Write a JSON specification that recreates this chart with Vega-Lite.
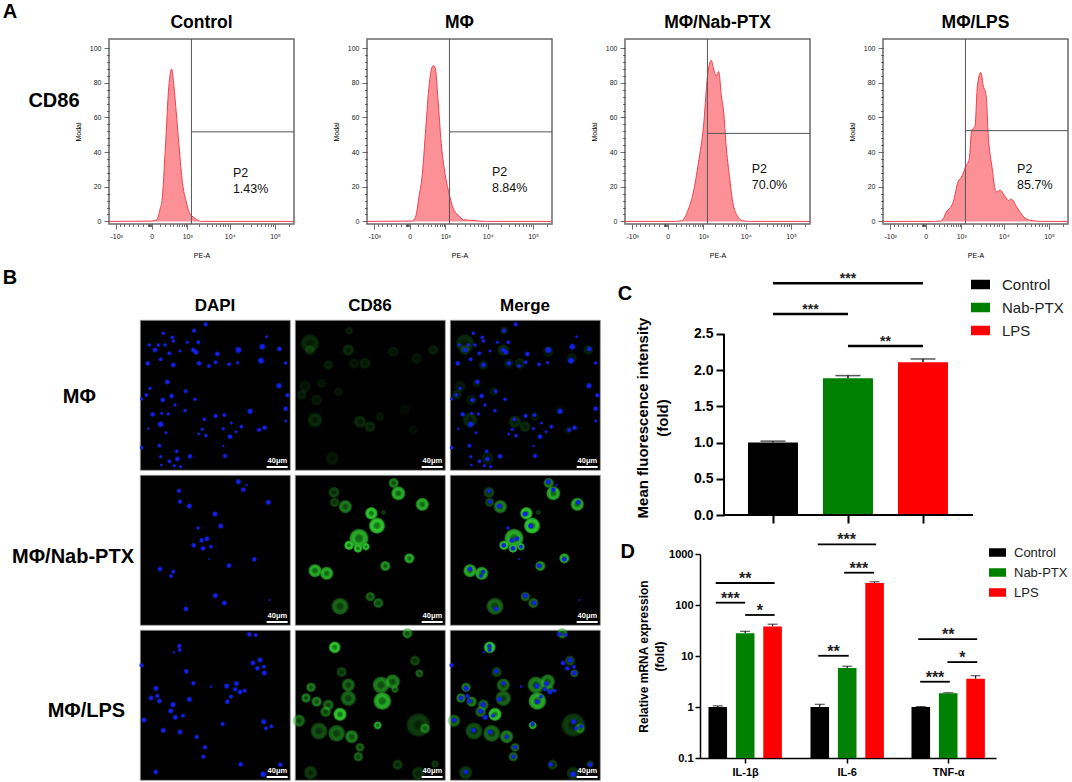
{
  "$schema": "https://vega.github.io/schema/vega-lite/v6.json",
  "padding": {"left": 2, "top": 2, "right": 0, "bottom": 0},
  "background": "white",
  "config": {
    "font": "Liberation Sans",
    "view": {"stroke": null},
    "axis": {"grid": false}
  },
  "spacing": 8,
  "vconcat": [
    {
      "title": {"text": "A", "anchor": "start", "frame": "bounds", "fontSize": 20, "fontWeight": "bold", "color": "#000", "offset": -9, "dx": -25},
      "data": {"values": [
        {"panel":"Control","kind":"heading","text":"CD86","channel":-2.7,"modal":69.4},
        {"panel":"Control","kind":"note","text":"P2","channel":1.777,"modal":28},
        {"panel":"Control","kind":"note","text":"1.43%","channel":1.777,"modal":18.6},
        {"panel":"MΦ","kind":"note","text":"P2","channel":1.8,"modal":28.8},
        {"panel":"MΦ","kind":"note","text":"8.84%","channel":1.8,"modal":19.4},
        {"panel":"MΦ/Nab-PTX","kind":"note","text":"P2","channel":1.84,"modal":30},
        {"panel":"MΦ/Nab-PTX","kind":"note","text":"70.0%","channel":1.84,"modal":21},
        {"panel":"MΦ/LPS","kind":"note","text":"P2","channel":2.0,"modal":30},
        {"panel":"MΦ/LPS","kind":"note","text":"85.7%","channel":2.0,"modal":21},
        {"panel":"Control","kind":"gate","modal":51.7},
        {"panel":"MΦ","kind":"gate","modal":51.7},
        {"panel":"MΦ/Nab-PTX","kind":"gate","modal":50.8},
        {"panel":"MΦ/LPS","kind":"gate","modal":52.4},
        {"panel":"Control","kind":"curve","channel":-0.93,"modal":0},
        {"panel":"Control","kind":"curve","channel":0,"modal":0.2},
        {"panel":"Control","kind":"curve","channel":0.112,"modal":1},
        {"panel":"Control","kind":"curve","channel":0.187,"modal":7.5},
        {"panel":"Control","kind":"curve","channel":0.225,"modal":12},
        {"panel":"Control","kind":"curve","channel":0.3,"modal":43},
        {"panel":"Control","kind":"curve","channel":0.375,"modal":78},
        {"panel":"Control","kind":"curve","channel":0.435,"modal":88},
        {"panel":"Control","kind":"curve","channel":0.487,"modal":78},
        {"panel":"Control","kind":"curve","channel":0.54,"modal":62},
        {"panel":"Control","kind":"curve","channel":0.6,"modal":43},
        {"panel":"Control","kind":"curve","channel":0.675,"modal":22},
        {"panel":"Control","kind":"curve","channel":0.75,"modal":12},
        {"panel":"Control","kind":"curve","channel":0.825,"modal":5},
        {"panel":"Control","kind":"curve","channel":0.937,"modal":2},
        {"panel":"Control","kind":"curve","channel":1.087,"modal":0},
        {"panel":"Control","kind":"curve","channel":3.11,"modal":0},
        {"panel":"MΦ","kind":"curve","channel":-0.93,"modal":0},
        {"panel":"MΦ","kind":"curve","channel":0.052,"modal":0.2},
        {"panel":"MΦ","kind":"curve","channel":0.127,"modal":2.5},
        {"panel":"MΦ","kind":"curve","channel":0.202,"modal":14},
        {"panel":"MΦ","kind":"curve","channel":0.277,"modal":27.5},
        {"panel":"MΦ","kind":"curve","channel":0.352,"modal":54},
        {"panel":"MΦ","kind":"curve","channel":0.427,"modal":79},
        {"panel":"MΦ","kind":"curve","channel":0.487,"modal":89},
        {"panel":"MΦ","kind":"curve","channel":0.517,"modal":90},
        {"panel":"MΦ","kind":"curve","channel":0.562,"modal":88},
        {"panel":"MΦ","kind":"curve","channel":0.615,"modal":72},
        {"panel":"MΦ","kind":"curve","channel":0.69,"modal":45},
        {"panel":"MΦ","kind":"curve","channel":0.765,"modal":29},
        {"panel":"MΦ","kind":"curve","channel":0.862,"modal":16},
        {"panel":"MΦ","kind":"curve","channel":0.952,"modal":7.5},
        {"panel":"MΦ","kind":"curve","channel":1.064,"modal":3.5},
        {"panel":"MΦ","kind":"curve","channel":1.177,"modal":1},
        {"panel":"MΦ","kind":"curve","channel":1.364,"modal":0.6},
        {"panel":"MΦ","kind":"curve","channel":1.514,"modal":0.2},
        {"panel":"MΦ","kind":"curve","channel":1.7,"modal":0},
        {"panel":"MΦ","kind":"curve","channel":3.11,"modal":0},
        {"panel":"MΦ/Nab-PTX","kind":"curve","channel":-0.93,"modal":0},
        {"panel":"MΦ/Nab-PTX","kind":"curve","channel":0.157,"modal":0},
        {"panel":"MΦ/Nab-PTX","kind":"curve","channel":0.305,"modal":0.4},
        {"panel":"MΦ/Nab-PTX","kind":"curve","channel":0.452,"modal":7},
        {"panel":"MΦ/Nab-PTX","kind":"curve","channel":0.563,"modal":17},
        {"panel":"MΦ/Nab-PTX","kind":"curve","channel":0.673,"modal":34},
        {"panel":"MΦ/Nab-PTX","kind":"curve","channel":0.784,"modal":55},
        {"panel":"MΦ/Nab-PTX","kind":"curve","channel":0.872,"modal":84},
        {"panel":"MΦ/Nab-PTX","kind":"curve","channel":0.954,"modal":93},
        {"panel":"MΦ/Nab-PTX","kind":"curve","channel":1.005,"modal":88},
        {"panel":"MΦ/Nab-PTX","kind":"curve","channel":1.057,"modal":84},
        {"panel":"MΦ/Nab-PTX","kind":"curve","channel":1.116,"modal":86.5},
        {"panel":"MΦ/Nab-PTX","kind":"curve","channel":1.175,"modal":72.5},
        {"panel":"MΦ/Nab-PTX","kind":"curve","channel":1.226,"modal":63},
        {"panel":"MΦ/Nab-PTX","kind":"curve","channel":1.278,"modal":44},
        {"panel":"MΦ/Nab-PTX","kind":"curve","channel":1.352,"modal":26},
        {"panel":"MΦ/Nab-PTX","kind":"curve","channel":1.425,"modal":11},
        {"panel":"MΦ/Nab-PTX","kind":"curve","channel":1.521,"modal":3.3},
        {"panel":"MΦ/Nab-PTX","kind":"curve","channel":1.632,"modal":0.4},
        {"panel":"MΦ/Nab-PTX","kind":"curve","channel":1.816,"modal":0},
        {"panel":"MΦ/Nab-PTX","kind":"curve","channel":3.11,"modal":0},
        {"panel":"MΦ/LPS","kind":"curve","channel":-0.93,"modal":0},
        {"panel":"MΦ/LPS","kind":"curve","channel":0.194,"modal":0},
        {"panel":"MΦ/LPS","kind":"curve","channel":0.341,"modal":0.2},
        {"panel":"MΦ/LPS","kind":"curve","channel":0.452,"modal":5.4},
        {"panel":"MΦ/LPS","kind":"curve","channel":0.6,"modal":11},
        {"panel":"MΦ/LPS","kind":"curve","channel":0.71,"modal":23},
        {"panel":"MΦ/LPS","kind":"curve","channel":0.784,"modal":25.6},
        {"panel":"MΦ/LPS","kind":"curve","channel":0.88,"modal":32},
        {"panel":"MΦ/LPS","kind":"curve","channel":0.954,"modal":36},
        {"panel":"MΦ/LPS","kind":"curve","channel":1.005,"modal":52.5},
        {"panel":"MΦ/LPS","kind":"curve","channel":1.079,"modal":55},
        {"panel":"MΦ/LPS","kind":"curve","channel":1.131,"modal":78},
        {"panel":"MΦ/LPS","kind":"curve","channel":1.204,"modal":86},
        {"panel":"MΦ/LPS","kind":"curve","channel":1.263,"modal":78},
        {"panel":"MΦ/LPS","kind":"curve","channel":1.322,"modal":72.7},
        {"panel":"MΦ/LPS","kind":"curve","channel":1.374,"modal":48},
        {"panel":"MΦ/LPS","kind":"curve","channel":1.448,"modal":32},
        {"panel":"MΦ/LPS","kind":"curve","channel":1.544,"modal":17},
        {"panel":"MΦ/LPS","kind":"curve","channel":1.632,"modal":18},
        {"panel":"MΦ/LPS","kind":"curve","channel":1.721,"modal":15},
        {"panel":"MΦ/LPS","kind":"curve","channel":1.817,"modal":12},
        {"panel":"MΦ/LPS","kind":"curve","channel":1.869,"modal":13},
        {"panel":"MΦ/LPS","kind":"curve","channel":2.001,"modal":8},
        {"panel":"MΦ/LPS","kind":"curve","channel":2.149,"modal":2.5},
        {"panel":"MΦ/LPS","kind":"curve","channel":2.296,"modal":0.6},
        {"panel":"MΦ/LPS","kind":"curve","channel":2.554,"modal":0},
        {"panel":"MΦ/LPS","kind":"curve","channel":3.11,"modal":0}
      ]},
      "facet": {
        "field": "panel",
        "type": "nominal",
        "sort": ["Control", "MΦ", "MΦ/Nab-PTX", "MΦ/LPS"],
        "header": {"title": null, "labelFontSize": 17.5, "labelFontWeight": "bold", "labelPadding": 7, "labelColor": "#000"}
      },
      "columns": 4,
      "spacing": 73,
      "bounds": "flush",
      "resolve": {"axis": {"x": "independent", "y": "independent"}},
      "spec": {
        "width": 185,
        "height": 185,
        "view": {"stroke": "#6a6a6a", "strokeWidth": 1.5},
        "layer": [
          {
            "transform": [{"filter": "datum.kind === 'curve'"}],
            "mark": {"type": "area", "interpolate": "monotone", "color": "#fb9196", "opacity": 1, "line": {"color": "#f2404e", "strokeWidth": 1}},
            "encoding": {
              "x": {
                "field": "channel",
                "type": "quantitative",
                "scale": {"domain": [-0.935, 3.115], "nice": false, "zero": false},
                "axis": {
                  "title": "PE-A",
                  "titleFontSize": 7,
                  "titleFontWeight": "normal",
                  "titlePadding": 12,
                  "labelFontSize": 7,
                  "labelColor": "#222",
                  "labelPadding": 3,
                  "labelOverlap": false,
                  "domain": false,
                  "tickColor": "#333",
                  "tickWidth": 0.7,
                  "tickCount": 100,
                  "values": [-0.778, -0.7, -0.6, -0.5, -0.4, -0.3, -0.2, -0.09, -0.07, -0.05, -0.03, -0.01, 0, 0.176, 0.301, 0.398, 0.477, 0.544, 0.602, 0.653, 0.699, 0.74, 0.778, 1.041, 1.204, 1.322, 1.415, 1.491, 1.556, 1.613, 1.663, 1.708, 2.004, 2.179, 2.303, 2.399, 2.479, 2.546, 2.604, 2.656, 2.7, 3.0],
                  "tickSize": {"condition": {"test": "indexof([-0.778,0,0.778,1.708,2.7], datum.value) >= 0", "value": 5}, "value": 2.5},
                  "labelExpr": "datum.value === -0.778 ? '-10³' : datum.value === 0 ? '0' : datum.value === 0.778 ? '10³' : datum.value === 1.708 ? '10⁴' : datum.value === 2.7 ? '10⁵' : ''"
                }
              },
              "y": {
                "field": "modal",
                "type": "quantitative",
                "scale": {"domain": [-1.5, 105.3], "nice": false, "zero": false},
                "axis": {
                  "title": "Modal",
                  "titleFontSize": 7,
                  "titleFontWeight": "normal",
                  "titlePadding": 8,
                  "labelFontSize": 7,
                  "labelColor": "#222",
                  "labelPadding": 3,
                  "labelOverlap": false,
                  "domain": false,
                  "tickColor": "#333",
                  "tickWidth": 0.7,
                  "tickCount": 100,
                  "values": [0, 4, 8, 12, 16, 20, 24, 28, 32, 36, 40, 44, 48, 52, 56, 60, 64, 68, 72, 76, 80, 84, 88, 92, 96, 100],
                  "tickSize": {"condition": {"test": "datum.value % 20 === 0", "value": 5}, "value": 2.5},
                  "labelExpr": "datum.value % 20 === 0 ? datum.value : ''"
                }
              }
            }
          },
          {
            "transform": [{"filter": "datum.kind === 'gate'"}],
            "mark": {"type": "rule", "color": "#555", "strokeWidth": 1},
            "encoding": {"x": {"datum": 0.87}}
          },
          {
            "transform": [{"filter": "datum.kind === 'gate'"}],
            "mark": {"type": "rule", "color": "#555", "strokeWidth": 1},
            "encoding": {
              "x": {"datum": 0.87},
              "x2": {"datum": 3.115},
              "y": {"field": "modal", "type": "quantitative"}
            }
          },
          {
            "transform": [{"filter": "datum.kind === 'note'"}],
            "mark": {"type": "text", "align": "left", "baseline": "middle", "fontSize": 12.5, "color": "#111"},
            "encoding": {
              "x": {"field": "channel", "type": "quantitative"},
              "y": {"field": "modal", "type": "quantitative"},
              "text": {"field": "text"}
            }
          },
          {
            "transform": [{"filter": "datum.kind === 'heading'"}],
            "mark": {"type": "text", "align": "left", "baseline": "middle", "fontWeight": "bold", "fontSize": 20, "color": "#000"},
            "encoding": {
              "x": {"field": "channel", "type": "quantitative"},
              "y": {"field": "modal", "type": "quantitative"},
              "text": {"field": "text"}
            }
          }
        ]
      }
    },
    {
      "spacing": 0,
      "hconcat": [
        {
          "width": 28.3,
          "height": 460,
          "data": {"values": [
            {"label": "B", "across": -99.1, "down": -42.5},
            {"label": "MΦ", "across": -29.6, "down": 77},
            {"label": "MΦ/Nab-PTX", "across": -36, "down": 237},
            {"label": "MΦ/LPS", "across": -22.6, "down": 391}
          ]},
          "mark": {"type": "text", "fontWeight": "bold", "fontSize": 20, "color": "#000"},
          "encoding": {
            "x": {"field": "across", "type": "quantitative", "scale": {"domain": [0, 28.3], "nice": false, "zero": false}, "axis": null},
            "y": {"field": "down", "type": "quantitative", "scale": {"domain": [460, 0], "nice": false, "zero": false}, "axis": null},
            "text": {"field": "label"}
          }
        },
        {
          "spacing": 16,
          "hconcat": [
            {
              "data": {"values": [
                {"condition":"MΦ","kind":"cell","x":45,"y":70,"d":50,"level":0.3},{"condition":"MΦ","kind":"cell","x":45,"y":90,"d":28,"level":0.3},{"condition":"MΦ","kind":"cell","x":162,"y":32,"d":22,"level":0.25},{"condition":"MΦ","kind":"cell","x":160,"y":90,"d":32,"level":0.3},{"condition":"MΦ","kind":"cell","x":100,"y":135,"d":26,"level":0.25},{"condition":"MΦ","kind":"cell","x":210,"y":130,"d":30,"level":0.25},{"condition":"MΦ","kind":"cell","x":177,"y":130,"d":28,"level":0.2},{"condition":"MΦ","kind":"cell","x":295,"y":95,"d":30,"level":0.2},{"condition":"MΦ","kind":"cell","x":365,"y":115,"d":30,"level":0.2},{"condition":"MΦ","kind":"cell","x":415,"y":90,"d":28,"level":0.25},{"condition":"MΦ","kind":"cell","x":20,"y":225,"d":26,"level":0.25},{"condition":"MΦ","kind":"cell","x":30,"y":200,"d":32,"level":0.2},{"condition":"MΦ","kind":"cell","x":80,"y":190,"d":24,"level":0.2},{"condition":"MΦ","kind":"cell","x":65,"y":240,"d":30,"level":0.2},{"condition":"MΦ","kind":"cell","x":60,"y":300,"d":40,"level":0.3},{"condition":"MΦ","kind":"cell","x":130,"y":215,"d":24,"level":0.2},{"condition":"MΦ","kind":"cell","x":195,"y":305,"d":34,"level":0.3},{"condition":"MΦ","kind":"cell","x":225,"y":320,"d":30,"level":0.3},{"condition":"MΦ","kind":"cell","x":255,"y":290,"d":24,"level":0.2},{"condition":"MΦ","kind":"cell","x":355,"y":330,"d":24,"level":0.15},{"condition":"MΦ","kind":"cell","x":112,"y":415,"d":36,"level":0.2},{"condition":"MΦ","kind":"cell","x":330,"y":270,"d":30,"level":0.12},
                {"condition":"MΦ/Nab-PTX","kind":"cell","x":117,"y":52,"d":30,"level":0.45},{"condition":"MΦ/Nab-PTX","kind":"cell","x":119,"y":82,"d":26,"level":0.45},{"condition":"MΦ/Nab-PTX","kind":"cell","x":151,"y":95,"d":36,"level":0.7},{"condition":"MΦ/Nab-PTX","kind":"cell","x":296,"y":24,"d":28,"level":0.7},{"condition":"MΦ/Nab-PTX","kind":"cell","x":310,"y":55,"d":38,"level":0.9},{"condition":"MΦ/Nab-PTX","kind":"cell","x":382,"y":88,"d":36,"level":0.9},{"condition":"MΦ/Nab-PTX","kind":"cell","x":229,"y":115,"d":34,"level":1},{"condition":"MΦ/Nab-PTX","kind":"cell","x":246,"y":152,"d":44,"level":1},{"condition":"MΦ/Nab-PTX","kind":"cell","x":265,"y":112,"d":14,"level":0.4},{"condition":"MΦ/Nab-PTX","kind":"cell","x":192,"y":190,"d":52,"level":0.9},{"condition":"MΦ/Nab-PTX","kind":"cell","x":162,"y":211,"d":26,"level":1},{"condition":"MΦ/Nab-PTX","kind":"cell","x":189,"y":220,"d":24,"level":1},{"condition":"MΦ/Nab-PTX","kind":"cell","x":213,"y":215,"d":20,"level":1},{"condition":"MΦ/Nab-PTX","kind":"cell","x":343,"y":250,"d":28,"level":0.9},{"condition":"MΦ/Nab-PTX","kind":"cell","x":271,"y":273,"d":28,"level":0.8},{"condition":"MΦ/Nab-PTX","kind":"cell","x":60,"y":287,"d":36,"level":0.9},{"condition":"MΦ/Nab-PTX","kind":"cell","x":95,"y":295,"d":36,"level":0.9},{"condition":"MΦ/Nab-PTX","kind":"cell","x":135,"y":394,"d":46,"level":0.6},{"condition":"MΦ/Nab-PTX","kind":"cell","x":226,"y":365,"d":26,"level":0.6},{"condition":"MΦ/Nab-PTX","kind":"cell","x":250,"y":384,"d":28,"level":0.6},
                {"condition":"MΦ/LPS","kind":"cell","x":119,"y":52,"d":32,"level":1},{"condition":"MΦ/LPS","kind":"cell","x":337,"y":10,"d":28,"level":0.7},{"condition":"MΦ/LPS","kind":"cell","x":360,"y":92,"d":28,"level":0.45},{"condition":"MΦ/LPS","kind":"cell","x":373,"y":130,"d":22,"level":0.6},{"condition":"MΦ/LPS","kind":"cell","x":140,"y":126,"d":28,"level":0.45},{"condition":"MΦ/LPS","kind":"cell","x":160,"y":165,"d":36,"level":0.6},{"condition":"MΦ/LPS","kind":"cell","x":48,"y":172,"d":26,"level":0.7},{"condition":"MΦ/LPS","kind":"cell","x":33,"y":204,"d":26,"level":0.7},{"condition":"MΦ/LPS","kind":"cell","x":65,"y":215,"d":28,"level":0.7},{"condition":"MΦ/LPS","kind":"cell","x":160,"y":205,"d":42,"level":0.6},{"condition":"MΦ/LPS","kind":"cell","x":258,"y":165,"d":46,"level":0.7},{"condition":"MΦ/LPS","kind":"cell","x":293,"y":155,"d":40,"level":0.7},{"condition":"MΦ/LPS","kind":"cell","x":262,"y":213,"d":48,"level":0.9},{"condition":"MΦ/LPS","kind":"cell","x":100,"y":225,"d":30,"level":0.6},{"condition":"MΦ/LPS","kind":"cell","x":92,"y":245,"d":30,"level":0.6},{"condition":"MΦ/LPS","kind":"cell","x":135,"y":253,"d":36,"level":1},{"condition":"MΦ/LPS","kind":"cell","x":12,"y":272,"d":34,"level":0.6},{"condition":"MΦ/LPS","kind":"cell","x":248,"y":286,"d":22,"level":0.9},{"condition":"MΦ/LPS","kind":"cell","x":72,"y":303,"d":46,"level":0.5},{"condition":"MΦ/LPS","kind":"cell","x":125,"y":310,"d":46,"level":0.6},{"condition":"MΦ/LPS","kind":"cell","x":170,"y":320,"d":36,"level":0.7},{"condition":"MΦ/LPS","kind":"cell","x":195,"y":352,"d":24,"level":0.6},{"condition":"MΦ/LPS","kind":"cell","x":190,"y":380,"d":26,"level":0.6},{"condition":"MΦ/LPS","kind":"cell","x":370,"y":285,"d":64,"level":0.4},{"condition":"MΦ/LPS","kind":"cell","x":390,"y":295,"d":28,"level":0.6},{"condition":"MΦ/LPS","kind":"cell","x":47,"y":428,"d":36,"level":0.4},{"condition":"MΦ/LPS","kind":"cell","x":308,"y":404,"d":28,"level":0.4},{"condition":"MΦ/LPS","kind":"cell","x":420,"y":402,"d":20,"level":0.4},{"condition":"MΦ/LPS","kind":"cell","x":370,"y":430,"d":36,"level":0.35},{"condition":"MΦ/LPS","kind":"cell","x":300,"y":178,"d":20,"level":0.6},
                {"condition":"MΦ","kind":"nucleus","x":197,"y":13,"d":13},{"condition":"MΦ","kind":"nucleus","x":70,"y":40,"d":11},{"condition":"MΦ","kind":"nucleus","x":162,"y":32,"d":13},{"condition":"MΦ","kind":"nucleus","x":97,"y":52,"d":11},{"condition":"MΦ","kind":"nucleus","x":100,"y":63,"d":11},{"condition":"MΦ","kind":"nucleus","x":142,"y":67,"d":10},{"condition":"MΦ","kind":"nucleus","x":175,"y":67,"d":12},{"condition":"MΦ","kind":"nucleus","x":55,"y":75,"d":11},{"condition":"MΦ","kind":"nucleus","x":75,"y":75,"d":11},{"condition":"MΦ","kind":"nucleus","x":28,"y":75,"d":11},{"condition":"MΦ","kind":"nucleus","x":45,"y":90,"d":14},{"condition":"MΦ","kind":"nucleus","x":88,"y":100,"d":12},{"condition":"MΦ","kind":"nucleus","x":120,"y":93,"d":9},{"condition":"MΦ","kind":"nucleus","x":160,"y":90,"d":14},{"condition":"MΦ","kind":"nucleus","x":168,"y":97,"d":14},{"condition":"MΦ","kind":"nucleus","x":232,"y":102,"d":14},{"condition":"MΦ","kind":"nucleus","x":295,"y":90,"d":18},{"condition":"MΦ","kind":"nucleus","x":380,"y":50,"d":9},{"condition":"MΦ","kind":"nucleus","x":367,"y":80,"d":17},{"condition":"MΦ","kind":"nucleus","x":418,"y":87,"d":14},{"condition":"MΦ","kind":"nucleus","x":23,"y":130,"d":14},{"condition":"MΦ","kind":"nucleus","x":62,"y":118,"d":12},{"condition":"MΦ","kind":"nucleus","x":100,"y":135,"d":14},{"condition":"MΦ","kind":"nucleus","x":177,"y":130,"d":14},{"condition":"MΦ","kind":"nucleus","x":207,"y":138,"d":12},{"condition":"MΦ","kind":"nucleus","x":227,"y":127,"d":12},{"condition":"MΦ","kind":"nucleus","x":267,"y":133,"d":12},{"condition":"MΦ","kind":"nucleus","x":293,"y":128,"d":10},{"condition":"MΦ","kind":"nucleus","x":363,"y":122,"d":18},{"condition":"MΦ","kind":"nucleus","x":437,"y":129,"d":11},{"condition":"MΦ","kind":"nucleus","x":82,"y":186,"d":14},{"condition":"MΦ","kind":"nucleus","x":30,"y":205,"d":11},{"condition":"MΦ","kind":"nucleus","x":137,"y":214,"d":12},{"condition":"MΦ","kind":"nucleus","x":417,"y":197,"d":16},{"condition":"MΦ","kind":"nucleus","x":19,"y":225,"d":12},{"condition":"MΦ","kind":"nucleus","x":68,"y":240,"d":14},{"condition":"MΦ","kind":"nucleus","x":95,"y":228,"d":14},{"condition":"MΦ","kind":"nucleus","x":5,"y":237,"d":10},{"condition":"MΦ","kind":"nucleus","x":442,"y":226,"d":13},{"condition":"MΦ","kind":"nucleus","x":165,"y":238,"d":11},{"condition":"MΦ","kind":"nucleus","x":105,"y":255,"d":10},{"condition":"MΦ","kind":"nucleus","x":135,"y":272,"d":11},{"condition":"MΦ","kind":"nucleus","x":330,"y":274,"d":16},{"condition":"MΦ","kind":"nucleus","x":437,"y":266,"d":14},{"condition":"MΦ","kind":"nucleus","x":38,"y":283,"d":14},{"condition":"MΦ","kind":"nucleus","x":65,"y":280,"d":10},{"condition":"MΦ","kind":"nucleus","x":85,"y":282,"d":10},{"condition":"MΦ","kind":"nucleus","x":437,"y":303,"d":9},{"condition":"MΦ","kind":"nucleus","x":62,"y":313,"d":17},{"condition":"MΦ","kind":"nucleus","x":227,"y":288,"d":13},{"condition":"MΦ","kind":"nucleus","x":253,"y":285,"d":12},{"condition":"MΦ","kind":"nucleus","x":193,"y":298,"d":11},{"condition":"MΦ","kind":"nucleus","x":274,"y":309,"d":9},{"condition":"MΦ","kind":"nucleus","x":304,"y":320,"d":12},{"condition":"MΦ","kind":"nucleus","x":25,"y":326,"d":8},{"condition":"MΦ","kind":"nucleus","x":78,"y":338,"d":9},{"condition":"MΦ","kind":"nucleus","x":176,"y":342,"d":9},{"condition":"MΦ","kind":"nucleus","x":187,"y":328,"d":10},{"condition":"MΦ","kind":"nucleus","x":270,"y":350,"d":14},{"condition":"MΦ","kind":"nucleus","x":250,"y":326,"d":10},{"condition":"MΦ","kind":"nucleus","x":288,"y":335,"d":9},{"condition":"MΦ","kind":"nucleus","x":357,"y":330,"d":13},{"condition":"MΦ","kind":"nucleus","x":374,"y":323,"d":14},{"condition":"MΦ","kind":"nucleus","x":198,"y":347,"d":11},{"condition":"MΦ","kind":"nucleus","x":58,"y":377,"d":12},{"condition":"MΦ","kind":"nucleus","x":5,"y":383,"d":11},{"condition":"MΦ","kind":"nucleus","x":250,"y":378,"d":7},{"condition":"MΦ","kind":"nucleus","x":110,"y":394,"d":11},{"condition":"MΦ","kind":"nucleus","x":62,"y":410,"d":10},{"condition":"MΦ","kind":"nucleus","x":150,"y":409,"d":14},{"condition":"MΦ","kind":"nucleus","x":255,"y":408,"d":13},{"condition":"MΦ","kind":"nucleus","x":112,"y":417,"d":14},{"condition":"MΦ","kind":"nucleus","x":88,"y":424,"d":12},{"condition":"MΦ","kind":"nucleus","x":64,"y":435,"d":8},{"condition":"MΦ","kind":"nucleus","x":103,"y":437,"d":10},{"condition":"MΦ","kind":"nucleus","x":122,"y":440,"d":10},
                {"condition":"MΦ/Nab-PTX","kind":"nucleus","x":117,"y":48,"d":13},{"condition":"MΦ/Nab-PTX","kind":"nucleus","x":120,"y":80,"d":13},{"condition":"MΦ/Nab-PTX","kind":"nucleus","x":148,"y":93,"d":15},{"condition":"MΦ/Nab-PTX","kind":"nucleus","x":295,"y":20,"d":15},{"condition":"MΦ/Nab-PTX","kind":"nucleus","x":310,"y":44,"d":14},{"condition":"MΦ/Nab-PTX","kind":"nucleus","x":320,"y":30,"d":7},{"condition":"MΦ/Nab-PTX","kind":"nucleus","x":385,"y":82,"d":15},{"condition":"MΦ/Nab-PTX","kind":"nucleus","x":225,"y":117,"d":15},{"condition":"MΦ/Nab-PTX","kind":"nucleus","x":242,"y":153,"d":15},{"condition":"MΦ/Nab-PTX","kind":"nucleus","x":174,"y":159,"d":10},{"condition":"MΦ/Nab-PTX","kind":"nucleus","x":185,"y":196,"d":14},{"condition":"MΦ/Nab-PTX","kind":"nucleus","x":201,"y":191,"d":14},{"condition":"MΦ/Nab-PTX","kind":"nucleus","x":161,"y":211,"d":14},{"condition":"MΦ/Nab-PTX","kind":"nucleus","x":189,"y":220,"d":14},{"condition":"MΦ/Nab-PTX","kind":"nucleus","x":213,"y":215,"d":12},{"condition":"MΦ/Nab-PTX","kind":"nucleus","x":343,"y":253,"d":14},{"condition":"MΦ/Nab-PTX","kind":"nucleus","x":267,"y":272,"d":14},{"condition":"MΦ/Nab-PTX","kind":"nucleus","x":60,"y":282,"d":14},{"condition":"MΦ/Nab-PTX","kind":"nucleus","x":100,"y":290,"d":12},{"condition":"MΦ/Nab-PTX","kind":"nucleus","x":93,"y":303,"d":12},{"condition":"MΦ/Nab-PTX","kind":"nucleus","x":138,"y":402,"d":14},{"condition":"MΦ/Nab-PTX","kind":"nucleus","x":226,"y":362,"d":15},{"condition":"MΦ/Nab-PTX","kind":"nucleus","x":253,"y":384,"d":14},{"condition":"MΦ/Nab-PTX","kind":"nucleus","x":207,"y":252,"d":5},{"condition":"MΦ/Nab-PTX","kind":"nucleus","x":388,"y":375,"d":6},
                {"condition":"MΦ/LPS","kind":"nucleus","x":118,"y":48,"d":13},{"condition":"MΦ/LPS","kind":"nucleus","x":119,"y":60,"d":12},{"condition":"MΦ/LPS","kind":"nucleus","x":102,"y":67,"d":7},{"condition":"MΦ/LPS","kind":"nucleus","x":5,"y":106,"d":13},{"condition":"MΦ/LPS","kind":"nucleus","x":139,"y":124,"d":14},{"condition":"MΦ/LPS","kind":"nucleus","x":160,"y":160,"d":13},{"condition":"MΦ/LPS","kind":"nucleus","x":48,"y":175,"d":15},{"condition":"MΦ/LPS","kind":"nucleus","x":33,"y":204,"d":14},{"condition":"MΦ/LPS","kind":"nucleus","x":52,"y":198,"d":13},{"condition":"MΦ/LPS","kind":"nucleus","x":58,"y":213,"d":14},{"condition":"MΦ/LPS","kind":"nucleus","x":148,"y":208,"d":15},{"condition":"MΦ/LPS","kind":"nucleus","x":260,"y":168,"d":15},{"condition":"MΦ/LPS","kind":"nucleus","x":289,"y":161,"d":15},{"condition":"MΦ/LPS","kind":"nucleus","x":285,"y":178,"d":13},{"condition":"MΦ/LPS","kind":"nucleus","x":300,"y":186,"d":14},{"condition":"MΦ/LPS","kind":"nucleus","x":314,"y":182,"d":12},{"condition":"MΦ/LPS","kind":"nucleus","x":262,"y":215,"d":14},{"condition":"MΦ/LPS","kind":"nucleus","x":273,"y":200,"d":12},{"condition":"MΦ/LPS","kind":"nucleus","x":99,"y":224,"d":15},{"condition":"MΦ/LPS","kind":"nucleus","x":92,"y":243,"d":15},{"condition":"MΦ/LPS","kind":"nucleus","x":106,"y":262,"d":15},{"condition":"MΦ/LPS","kind":"nucleus","x":129,"y":257,"d":12},{"condition":"MΦ/LPS","kind":"nucleus","x":12,"y":270,"d":15},{"condition":"MΦ/LPS","kind":"nucleus","x":248,"y":282,"d":13},{"condition":"MΦ/LPS","kind":"nucleus","x":70,"y":301,"d":15},{"condition":"MΦ/LPS","kind":"nucleus","x":120,"y":306,"d":14},{"condition":"MΦ/LPS","kind":"nucleus","x":170,"y":321,"d":13},{"condition":"MΦ/LPS","kind":"nucleus","x":195,"y":352,"d":13},{"condition":"MΦ/LPS","kind":"nucleus","x":190,"y":380,"d":13},{"condition":"MΦ/LPS","kind":"nucleus","x":339,"y":99,"d":14},{"condition":"MΦ/LPS","kind":"nucleus","x":352,"y":115,"d":14},{"condition":"MΦ/LPS","kind":"nucleus","x":372,"y":110,"d":12},{"condition":"MΦ/LPS","kind":"nucleus","x":373,"y":129,"d":15},{"condition":"MΦ/LPS","kind":"nucleus","x":360,"y":90,"d":15},{"condition":"MΦ/LPS","kind":"nucleus","x":371,"y":275,"d":15},{"condition":"MΦ/LPS","kind":"nucleus","x":378,"y":295,"d":12},{"condition":"MΦ/LPS","kind":"nucleus","x":394,"y":289,"d":12},{"condition":"MΦ/LPS","kind":"nucleus","x":47,"y":426,"d":14},{"condition":"MΦ/LPS","kind":"nucleus","x":302,"y":403,"d":14},{"condition":"MΦ/LPS","kind":"nucleus","x":421,"y":404,"d":14},{"condition":"MΦ/LPS","kind":"nucleus","x":370,"y":433,"d":17},{"condition":"MΦ/LPS","kind":"nucleus","x":328,"y":13,"d":14},{"condition":"MΦ/LPS","kind":"nucleus","x":347,"y":15,"d":12},{"condition":"MΦ/LPS","kind":"nucleus","x":213,"y":170,"d":7}
              ]},
              "transform": [
                {
                  "lookup": "kind",
                  "from": {
                    "data": {"values": [
                      {"kind": "cell", "stain": ["CD86", "Merge"]},
                      {"kind": "nucleus", "stain": ["DAPI", "Merge"]}
                    ]},
                    "key": "kind",
                    "fields": ["stain"]
                  }
                },
                {"flatten": ["stain"]}
              ],
              "facet": {
                "row": {
                  "field": "condition",
                  "type": "nominal",
                  "sort": ["MΦ", "MΦ/Nab-PTX", "MΦ/LPS"],
                  "header": {"title": null, "labels": false}
                },
                "column": {
                  "field": "stain",
                  "type": "nominal",
                  "sort": ["DAPI", "CD86", "Merge"],
                  "header": {"title": null, "labelFontSize": 17, "labelFontWeight": "bold", "labelPadding": 5, "labelColor": "#000"}
                }
              },
              "spacing": {"row": 5, "column": 5},
              "bounds": "flush",
              "spec": {
                "width": 150,
                "height": 150,
                "view": {"fill": "#000", "stroke": "#999", "strokeWidth": 0.8},
                "layer": [
                  {
                    "transform": [{"filter": "datum.kind === 'cell'"}],
                    "mark": {
                      "type": "circle",
                      "fill": {"gradient": "radial", "x1": 0.5, "y1": 0.5, "r1": 0, "x2": 0.5, "y2": 0.5, "r2": 0.5, "stops": [
                        {"offset": 0, "color": "#15701a"},
                        {"offset": 0.3, "color": "#178018"},
                        {"offset": 0.55, "color": "#30cc30"},
                        {"offset": 0.85, "color": "#28aa28"},
                        {"offset": 1, "color": "rgba(25,130,25,0.3)"}
                      ]}
                    },
                    "encoding": {
                      "x": {"field": "x", "type": "quantitative", "scale": {"domain": [0, 450], "nice": false}, "axis": null},
                      "y": {"field": "y", "type": "quantitative", "scale": {"domain": [450, 0], "nice": false}, "axis": null},
                      "size": {"field": "d", "type": "quantitative", "scale": {"type": "pow", "exponent": 2, "domain": [0, 60], "range": [0, 520]}, "legend": null},
                      "opacity": {"field": "level", "type": "quantitative", "scale": {"type": "pow", "exponent": 1.3, "domain": [0, 1], "range": [0, 1]}, "legend": null}
                    }
                  },
                  {
                    "transform": [{"filter": "datum.kind === 'nucleus'"}],
                    "mark": {
                      "type": "circle",
                      "opacity": 1,
                      "fill": {"gradient": "radial", "x1": 0.5, "y1": 0.5, "r1": 0, "x2": 0.5, "y2": 0.5, "r2": 0.5, "stops": [
                        {"offset": 0, "color": "#1326f0"},
                        {"offset": 0.7, "color": "#0f1ee0"},
                        {"offset": 1, "color": "rgba(15,30,200,0.2)"}
                      ]}
                    },
                    "encoding": {
                      "x": {"field": "x", "type": "quantitative"},
                      "y": {"field": "y", "type": "quantitative"},
                      "size": {"field": "d", "type": "quantitative"}
                    }
                  },
                  {
                    "data": {"values": [{"from": 380, "to": 443, "y": 441}]},
                    "mark": {"type": "rule", "color": "#fff", "strokeWidth": 2},
                    "encoding": {
                      "x": {"field": "from", "type": "quantitative"},
                      "x2": {"field": "to"},
                      "y": {"field": "y", "type": "quantitative"}
                    }
                  },
                  {
                    "data": {"values": [{"mid": 412, "label": "40μm", "labelY": 424}]},
                    "mark": {"type": "text", "color": "#fff", "fontSize": 7.5, "fontWeight": "bold"},
                    "encoding": {
                      "x": {"field": "mid", "type": "quantitative"},
                      "y": {"field": "labelY", "type": "quantitative"},
                      "text": {"field": "label"}
                    }
                  }
                ]
              }
            },
            {
              "spacing": 8,
              "resolve": {"scale": {"fill": "independent"}, "legend": {"fill": "independent"}},
              "vconcat": [
                {
                  "width": 273,
                  "height": 195,
                  "layer": [
                    {
                      "data": {"values": [
                        {"group": "Control", "position": 0, "mean": 1.0, "upper": 1.02},
                        {"group": "Nab-PTX", "position": 1, "mean": 1.89, "upper": 1.925},
                        {"group": "LPS", "position": 2, "mean": 2.11, "upper": 2.155}
                      ]},
                      "layer": [
                        {
                          "mark": {"type": "rule", "color": "#111", "strokeWidth": 1.5},
                          "encoding": {
                            "x": {"field": "position", "type": "quantitative"},
                            "y": {"field": "mean", "type": "quantitative"},
                            "y2": {"field": "upper"}
                          }
                        },
                        {
                          "mark": {"type": "tick", "orient": "horizontal", "color": "#111", "size": 25, "thickness": 1.5},
                          "encoding": {
                            "x": {"field": "position", "type": "quantitative"},
                            "y": {"field": "upper", "type": "quantitative"}
                          }
                        },
                        {
                          "mark": {"type": "bar", "orient": "vertical", "size": 50},
                          "encoding": {
                            "x": {
                              "field": "position",
                              "type": "quantitative",
                              "scale": {"domain": [-0.973, 2.667], "nice": false, "zero": false, "padding": 0},
                              "axis": {"title": null, "values": [0, 1, 2], "labels": false, "domain": false, "tickWidth": 2, "tickColor": "#000", "tickSize": 8}
                            },
                            "y": {
                              "field": "mean",
                              "type": "quantitative",
                              "scale": {"domain": [0, 2.693], "nice": false},
                              "axis": {"title": ["Mean fluorescence intensity", "(fold)"], "offset": -24, "titleFontSize": 15, "titleFontWeight": "bold", "titleColor": "#000", "titlePadding": 23, "titleLineHeight": 20, "values": [0, 0.5, 1, 1.5, 2, 2.5], "tickCount": 10, "format": ".1f", "labelOverlap": false, "labelFontSize": 14, "labelFontWeight": "bold", "labelColor": "#000", "labelPadding": 3, "domain": false, "tickWidth": 2, "tickColor": "#000", "tickSize": 8}
                            },
                            "y2": {"datum": 0},
                            "fill": {
                              "field": "group",
                              "type": "nominal",
                              "scale": {"domain": ["Control", "Nab-PTX", "LPS"], "range": ["#000000", "#008000", "#ff0000"]},
                              "legend": {"title": null, "orient": "none", "legendX": 271, "legendY": -45, "symbolType": "M-1,-0.5H1V0.5H-1Z", "symbolSize": 361, "symbolStrokeWidth": 0, "labelFontSize": 15, "labelColor": "#222", "labelOffset": 12, "rowPadding": 5}
                            }
                          }
                        }
                      ]
                    },
                    {
                      "data": {"values": [{}]},
                      "mark": {"type": "rule", "color": "#000", "strokeWidth": 2},
                      "encoding": {"x": {"datum": -0.653}, "y": {"datum": 0}, "y2": {"datum": 2.5}}
                    },
                    {
                      "data": {"values": [{}]},
                      "mark": {"type": "rule", "color": "#000", "strokeWidth": 2},
                      "encoding": {"x": {"datum": -0.653}, "x2": {"datum": 2.667}, "y": {"datum": 0}}
                    },
                    {
                      "data": {"values": [
                        {"from": 0, "to": 2, "mid": 1, "level": 3.2, "stars": "***"},
                        {"from": 0, "to": 1, "mid": 0.5, "level": 2.776, "stars": "***"},
                        {"from": 1, "to": 2, "mid": 1.5, "level": 2.334, "stars": "**"}
                      ]},
                      "layer": [
                        {
                          "mark": {"type": "rule", "color": "#000", "strokeWidth": 2.5},
                          "encoding": {
                            "x": {"field": "from", "type": "quantitative"},
                            "x2": {"field": "to"},
                            "y": {"field": "level", "type": "quantitative"}
                          }
                        },
                        {
                          "mark": {"type": "text", "fontSize": 14, "fontWeight": "bold", "baseline": "middle", "dy": -4, "color": "#222"},
                          "encoding": {
                            "x": {"field": "mid", "type": "quantitative"},
                            "y": {"field": "level", "type": "quantitative"},
                            "text": {"field": "stars"}
                          }
                        }
                      ]
                    },
                    {
                      "data": {"values": [{"letter": "C", "position": -2.07, "level": 3.05}]},
                      "mark": {"type": "text", "fontSize": 20, "fontWeight": "bold", "align": "left", "color": "#000"},
                      "encoding": {
                        "x": {"field": "position", "type": "quantitative"},
                        "y": {"field": "level", "type": "quantitative"},
                        "text": {"field": "letter"}
                      }
                    }
                  ]
                },
                {
                  "width": 296,
                  "height": 204,
                  "layer": [
                    {
                      "data": {"values": [
                        {"group": "Control", "position": -0.27, "mean": 1.0, "upper": 1.05},
                        {"group": "Nab-PTX", "position": 0, "mean": 28, "upper": 30.5},
                        {"group": "LPS", "position": 0.27, "mean": 38, "upper": 42},
                        {"group": "Control", "position": 0.735, "mean": 1.0, "upper": 1.13},
                        {"group": "Nab-PTX", "position": 1.005, "mean": 5.8, "upper": 6.3},
                        {"group": "LPS", "position": 1.275, "mean": 270, "upper": 285},
                        {"group": "Control", "position": 1.73, "mean": 1.0, "upper": 1.02},
                        {"group": "Nab-PTX", "position": 2, "mean": 1.85, "upper": 1.9},
                        {"group": "LPS", "position": 2.27, "mean": 3.6, "upper": 4.1}
                      ]},
                      "layer": [
                        {
                          "mark": {"type": "rule", "color": "#111", "strokeWidth": 1.2},
                          "encoding": {
                            "x": {"field": "position", "type": "quantitative"},
                            "y": {"field": "mean", "type": "quantitative"},
                            "y2": {"field": "upper"}
                          }
                        },
                        {
                          "mark": {"type": "tick", "orient": "horizontal", "color": "#111", "size": 10, "thickness": 1.2},
                          "encoding": {
                            "x": {"field": "position", "type": "quantitative"},
                            "y": {"field": "upper", "type": "quantitative"}
                          }
                        },
                        {
                          "mark": {"type": "bar", "orient": "vertical", "size": 18.6},
                          "encoding": {
                            "x": {
                              "field": "position",
                              "type": "quantitative",
                              "scale": {"domain": [-0.445, 2.471], "nice": false, "zero": false, "padding": 0},
                              "axis": {"title": null, "values": [0, 1, 2], "labelExpr": "['IL-1β', 'IL-6', 'TNF-α'][datum.value]", "labelFontSize": 11, "labelFontWeight": "bold", "labelColor": "#000", "labelPadding": 3, "domainWidth": 1.5, "domainColor": "#000", "tickWidth": 1.5, "tickColor": "#000", "tickSize": 5}
                            },
                            "y": {
                              "field": "mean",
                              "type": "quantitative",
                              "scale": {"type": "log", "domain": [0.1, 1000], "nice": false},
                              "axis": {"title": ["Relative mRNA expression", "(fold)"], "titleFontSize": 12, "titleFontWeight": "bold", "titleColor": "#000", "titlePadding": 2, "titleLineHeight": 16, "values": [0.1, 1, 10, 100, 1000], "format": "~g", "labelFontSize": 11, "labelFontWeight": "bold", "labelColor": "#000", "labelPadding": 2, "domainWidth": 1.5, "domainColor": "#000", "tickWidth": 1.5, "tickColor": "#000", "tickSize": 5}
                            },
                            "y2": {"datum": 0.1},
                            "fill": {
                              "field": "group",
                              "type": "nominal",
                              "scale": {"domain": ["Control", "Nab-PTX", "LPS"], "range": ["#000000", "#008000", "#ff0000"]},
                              "legend": {"title": null, "orient": "none", "legendX": 289, "legendY": -10, "symbolType": "M-1,-0.5H1V0.5H-1Z", "symbolSize": 289, "symbolStrokeWidth": 0, "labelFontSize": 13, "labelColor": "#222", "labelOffset": 8, "rowPadding": 4}
                            }
                          }
                        }
                      ]
                    },
                    {
                      "data": {"values": [
                        {"from": -0.29, "to": 0.29, "mid": 0, "level": 270, "stars": "**"},
                        {"from": -0.29, "to": 0, "mid": -0.145, "level": 111, "stars": "***"},
                        {"from": 0, "to": 0.29, "mid": 0.145, "level": 63.7, "stars": "*"},
                        {"from": 0.715, "to": 1.29, "mid": 1.0, "level": 1542, "stars": "***"},
                        {"from": 0.975, "to": 1.27, "mid": 1.12, "level": 430, "stars": "***"},
                        {"from": 0.72, "to": 1.02, "mid": 0.87, "level": 10.1, "stars": "**"},
                        {"from": 1.705, "to": 2.286, "mid": 2.0, "level": 21.5, "stars": "**"},
                        {"from": 1.993, "to": 2.286, "mid": 2.14, "level": 7.6, "stars": "*"},
                        {"from": 1.724, "to": 2.016, "mid": 1.87, "level": 3.13, "stars": "***"}
                      ]},
                      "layer": [
                        {
                          "mark": {"type": "rule", "color": "#000", "strokeWidth": 1.8},
                          "encoding": {
                            "x": {"field": "from", "type": "quantitative"},
                            "x2": {"field": "to"},
                            "y": {"field": "level", "type": "quantitative"}
                          }
                        },
                        {
                          "mark": {"type": "text", "fontSize": 16, "fontWeight": "bold", "baseline": "middle", "dy": -4, "color": "#222"},
                          "encoding": {
                            "x": {"field": "mid", "type": "quantitative"},
                            "y": {"field": "level", "type": "quantitative"},
                            "text": {"field": "stars"}
                          }
                        }
                      ]
                    },
                    {
                      "data": {"values": [{"letter": "D", "position": -1.227, "level": 1110}]},
                      "mark": {"type": "text", "fontSize": 20, "fontWeight": "bold", "align": "left", "color": "#000"},
                      "encoding": {
                        "x": {"field": "position", "type": "quantitative"},
                        "y": {"field": "level", "type": "quantitative"},
                        "text": {"field": "letter"}
                      }
                    }
                  ]
                }
              ]
            }
          ]
        }
      ]
    }
  ]
}
